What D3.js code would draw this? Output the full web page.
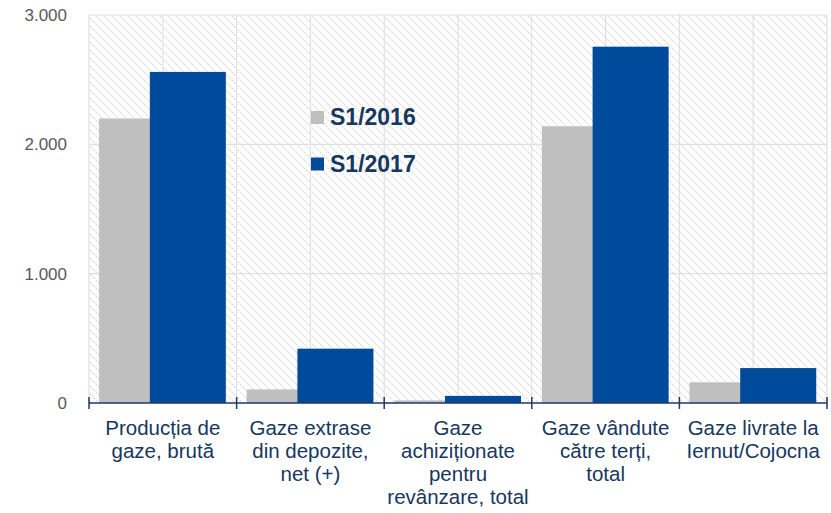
<!DOCTYPE html>
<html>
<head>
<meta charset="utf-8">
<script src="https://cdn.jsdelivr.net/npm/d3@7"></script>
<style>
  body { margin: 0; background: #fff; }
  svg { display: block; }
</style>
</head>
<body>
<svg id="chart" width="831" height="513"></svg>
<script>
const categories = [
  ["Producția de", "gaze, brută"],
  ["Gaze extrase", "din depozite,", "net (+)"],
  ["Gaze", "achiziționate", "pentru", "revânzare, total"],
  ["Gaze vândute", "către terți,", "total"],
  ["Gaze livrate la", "Iernut/Cojocna"]
];
const seriesNames = ["S1/2016", "S1/2017"];
const s2016 = [2200, 105, 20, 2140, 160];
const s2017 = [2560, 420, 55, 2755, 270];
const yTicks = [0, 1000, 2000, 3000];
const yTickLabels = ["0", "1.000", "2.000", "3.000"];

const colors = ["#bfbfbf", "#004a9b"];
const textBlue = "#17375e";

const svg = d3.select("#chart");
const m = { left: 89, right: 827, top: 15, bottom: 403 };

const x = d3.scaleBand().domain(d3.range(categories.length)).range([m.left, m.right]).paddingInner(0).paddingOuter(0);
const y = d3.scaleLinear().domain([0, 3000]).range([m.bottom, m.top]);

// hatch pattern
const defs = svg.append("defs");
const pat = defs.append("pattern").attr("id", "hatch").attr("patternUnits", "userSpaceOnUse")
  .attr("width", 8).attr("height", 8);
pat.append("rect").attr("width", 8).attr("height", 8).attr("fill", "#ffffff");
pat.append("path").attr("d", "M-2,-2 L10,10 M-2,6 L2,10 M6,-2 L10,2")
  .attr("stroke", "#d9d9d9").attr("stroke-width", 1.4).attr("stroke-dasharray", "1.6,1.2");

svg.append("rect").attr("x", m.left).attr("y", m.top)
  .attr("width", m.right - m.left).attr("height", m.bottom - m.top)
  .attr("fill", "url(#hatch)");

// gridlines
const grid = svg.append("g").attr("stroke", "#e0e0e0").attr("stroke-width", 1.2);
yTicks.filter(d => d > 0).forEach(t => {
  grid.append("line").attr("x1", m.left).attr("x2", m.right)
    .attr("y1", y(t)).attr("y2", y(t));
});
const vPositions = [];
d3.range(categories.length).forEach(i => {
  vPositions.push(x(i));
  vPositions.push(x(i) + x.bandwidth() / 2);
});
vPositions.push(m.right);
vPositions.forEach(px => {
  grid.append("line").attr("x1", px).attr("x2", px).attr("y1", m.top).attr("y2", m.bottom);
});

// bars
const bw = x.bandwidth();
const barW = bw * 0.515;
const offs = [bw * 0.068, bw * 0.412];
[s2016, s2017].forEach((series, si) => {
  svg.append("g").selectAll("rect").data(series).join("rect")
    .attr("x", (d, i) => x(i) + offs[si])
    .attr("width", barW)
    .attr("y", d => y(d))
    .attr("height", d => y(0) - y(d))
    .attr("fill", colors[si]);
});

// y axis labels
svg.append("g").selectAll("text").data(yTicks).join("text")
  .attr("x", 67).attr("y", d => y(d)).attr("dy", "0.35em")
  .attr("text-anchor", "end")
  .attr("font-family", "Liberation Sans, Arial, sans-serif")
  .attr("font-size", 17).attr("fill", "#595959")
  .text((d, i) => yTickLabels[i]);

// x axis
const axisG = svg.append("g").attr("stroke", "#1f3864").attr("stroke-width", 1.5);
axisG.append("line").attr("x1", m.left).attr("x2", m.right).attr("y1", y(0)).attr("y2", y(0));
const tickPos = d3.range(categories.length).map(i => x(i)).concat([m.right]);
tickPos.forEach(px => {
  axisG.append("line").attr("x1", px).attr("x2", px).attr("y1", y(0) - 6).attr("y2", y(0) + 6);
});

// x labels
const xl = svg.append("g").selectAll("text").data(categories).join("text")
  .attr("text-anchor", "middle")
  .attr("font-family", "Liberation Sans, Arial, sans-serif")
  .attr("font-size", 20.5).attr("fill", textBlue);
xl.each(function(lines, i) {
  const t = d3.select(this);
  lines.forEach((ln, j) => {
    t.append("tspan").attr("x", x(i) + bw / 2).attr("y", 435 + j * 23).text(ln);
  });
});

// legend
const leg = svg.append("g");
seriesNames.forEach((nm, i) => {
  const ly = 125 + i * 46.5;
  leg.append("rect").attr("x", 311).attr("y", ly - 14).attr("width", 13).attr("height", 13).attr("fill", colors[i]);
  leg.append("text").attr("x", 330).attr("y", ly)
    .attr("font-family", "Liberation Sans, Arial, sans-serif")
    .attr("font-size", 23).attr("font-weight", "bold").attr("fill", textBlue)
    .text(nm);
});
</script>
</body>
</html>
